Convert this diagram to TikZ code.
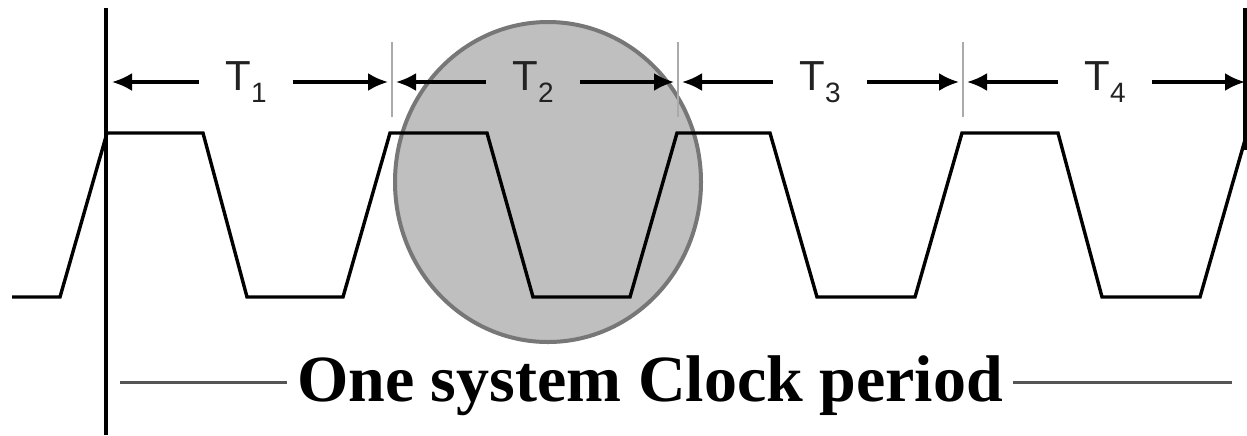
\documentclass[tikz,border=0pt]{standalone}
\usepackage{fontspec}
\setmainfont{Liberation Serif}
\setsansfont{Liberation Sans}
\usetikzlibrary{arrows.meta,shapes.geometric}
\definecolor{circfill}{HTML}{BFBFBF}
\definecolor{circdraw}{HTML}{777777}
\definecolor{tickgray}{HTML}{AAAAAA}
\definecolor{rulegray}{HTML}{555555}
\definecolor{labgray}{HTML}{222222}
\tikzset{
  wave/.style={line width=1.7pt, black, line join=miter},
  dimarrow/.style={line width=1.6pt, black, -{Latex[length=10pt,width=9pt]}, shorten >=2pt},
  tlabel/.style={inner sep=0pt, minimum width=46.5pt, minimum height=14pt, text=labgray, font=\sffamily\fontsize{21}{21}\selectfont},
  tickline/.style={line width=1pt, tickgray},
  rule/.style={line width=1.5pt, rulegray},
  border/.style={line width=2pt, black},
}
\newcommand{\tsub}[1]{T\raisebox{-6pt}{\fontsize{14}{14}\selectfont #1}}
\begin{document}
\begin{tikzpicture}[x=0.5pt,y=-0.5pt]
\useasboundingbox (0,0) rectangle (1247,435);
% highlight circle
\node[draw=circdraw, fill=circfill, line width=2pt, ellipse, minimum width=153pt, minimum height=160pt, inner sep=0pt] (circ) at (548,182) {};
% tick marks
\coordinate (k0) at (108,82);
\coordinate (k1) at (392,82);
\coordinate (k2) at (678,82);
\coordinate (k3) at (963,82);
\coordinate (k4) at (1245,82);
\draw[tickline] (392,42) -- (392,117);
\draw[tickline] (678,42) -- (678,117);
\draw[tickline] (963,42) -- (963,117);
% labels
\node[tlabel] (t1) at (246,82) {\tsub{1}};
\node[tlabel] (t2) at (533,82) {\tsub{2}};
\node[tlabel] (t3) at (820,82) {\tsub{3}};
\node[tlabel] (t4) at (1105,82) {\tsub{4}};
\draw[dimarrow] (t1.west) -- (k0);
\draw[dimarrow] (t1.east) -- (k1);
\draw[dimarrow] (t2.west) -- (k1);
\draw[dimarrow] (t2.east) -- (k2);
\draw[dimarrow] (t3.west) -- (k2);
\draw[dimarrow] (t3.east) -- (k3);
\draw[dimarrow] (t4.west) -- (k3);
\draw[dimarrow, shorten >=0pt] (t4.east) -- (k4);
% waveform
\draw[wave] (12,297) -- (60,297) -- (107,133) -- (203,133) -- (247,297) -- (343,297)
  -- (390,133) -- (487,133) -- (533,297) -- (630,297) -- (677,133) -- (770,133)
  -- (817,297) -- (915,297) -- (962,133) -- (1058,133) -- (1102,297) -- (1200,297) -- (1245,140);
% borders
\draw[border] (106,8) -- (106,435);
\draw[border] (1245,8) -- (1245,150);
% caption
\node[anchor=base, inner xsep=5pt, font=\bfseries\fontsize{33}{33}\selectfont] (cap) at (650,401) {One system Clock period};
\coordinate (rl) at (120,382);
\coordinate (rr) at (1232,382);
\draw[rule] (rl) -- (rl -| cap.west);
\draw[rule] (rr -| cap.east) -- (rr);
\end{tikzpicture}
\end{document}
